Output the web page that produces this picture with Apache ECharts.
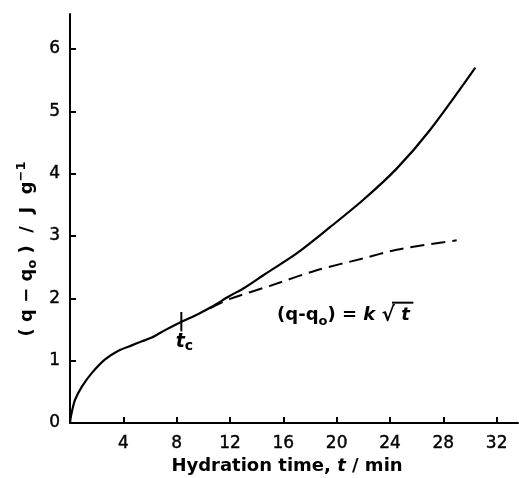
<!DOCTYPE html>
<html><head><meta charset="utf-8">
<script src="https://cdn.jsdelivr.net/npm/echarts@6/dist/echarts.min.js"></script>
<style>html,body{margin:0;padding:0;background:#fff}#c{width:519px;height:478px}</style>
</head><body><div id="c"></div>
<script>
// measured curve (t / min, (q - q0) / J g^-1)
const solidT = [0, 0.08, 0.375, 0.88, 1.63, 2.63, 3.63, 4.63, 5.4, 6.13, 7.13, 8.33, 9.63, 10.6, 12, 13.1, 14.5, 17, 19.5, 22, 24.5, 27, 30.4];
const solidQ = [0, 0.12, 0.37, 0.58, 0.80, 1.02, 1.16, 1.245, 1.31, 1.37, 1.49, 1.62, 1.75, 1.86, 2.04, 2.17, 2.37, 2.72, 3.14, 3.58, 4.08, 4.70, 5.70];
// k*sqrt(t) extrapolation (dashed)
const dashT = [10.5, 12, 15, 18.5, 22, 24.5, 29];
const dashQ = [1.84, 1.99, 2.2, 2.45, 2.64, 2.78, 2.93];
// critical time marker
const tcT = 8.35;
const tcRange = [1.47, 1.78];
const xTicks = [4, 8, 12, 16, 20, 24, 28, 32];
const yTicks = [0, 1, 2, 3, 4, 5, 6];
// annotation anchors (data space)
const eqAnchor = [15.53, 1.72];
const eqRadicalBar = [[24.15, 1.93], [25.75, 1.93]];
const tcLabelAt = [tcT, 1.3];

const FONT = 'DejaVu Sans';
const solid = solidT.map((t, i) => [t, solidQ[i]]);
const dash = dashT.map((t, i) => [t, dashQ[i]]);
const ink = { textBorderColor: '#000', textBorderWidth: 0.4 };
const B = (size, extra) => Object.assign({ fontWeight: 'bold', fontSize: size, fontFamily: FONT, color: '#000' }, extra || {});

const chart = echarts.init(document.getElementById('c'));
chart.setOption({
  animation: false,
  backgroundColor: '#fff',
  grid: { left: 70, top: 14, width: 448, height: 409 },
  xAxis: {
    type: 'value', min: 0, max: 33.6, interval: 4,
    axisLine: { lineStyle: { color: '#000', width: 2 } },
    axisTick: { inside: true, length: 6, lineStyle: { color: '#000', width: 2 } },
    axisLabel: Object.assign({ color: '#000', fontFamily: FONT, fontSize: 17, margin: 12,
      formatter: v => xTicks.includes(v) ? String(v) : '', showMaxLabel: false }, ink),
    splitLine: { show: false }
  },
  yAxis: {
    type: 'value', min: 0, max: 6.56, interval: 1,
    axisLine: { lineStyle: { color: '#000', width: 2 } },
    axisTick: { inside: true, length: 6, lineStyle: { color: '#000', width: 2 } },
    axisLabel: Object.assign({ color: '#000', fontFamily: FONT, fontSize: 17, margin: 10,
      formatter: v => yTicks.includes(v) ? String(v) : '', showMaxLabel: false }, ink),
    splitLine: { show: false }
  },
  graphic: [
    { type: 'text', x: 27, y: 249, rotation: Math.PI / 2,
      style: { text: '( q − q{sub|o} )  /  J  g{sup|−1}', fill: '#000', font: 'bold 18px ' + FONT,
        align: 'center', verticalAlign: 'middle',
        rich: { sub: { fontSize: 13, fontWeight: 'bold', fontFamily: FONT, padding: [11, 0, 0, 0] },
                sup: { fontSize: 13, fontWeight: 'bold', fontFamily: FONT, padding: [0, 0, 11, 0] } } } },
    { type: 'text', x: 287, y: 466,
      style: { text: 'Hydration time, {i|t} / min', fill: '#000', font: 'bold 18px ' + FONT,
        align: 'center', verticalAlign: 'middle',
        rich: { i: { fontStyle: 'italic', fontWeight: 'bold', fontSize: 18, fontFamily: FONT } } } }
  ],
  series: [
    { type: 'line', data: solid, smooth: 0.3, symbol: 'none',
      lineStyle: { color: '#000', width: 2.2 }, z: 3 },
    { type: 'line', data: dash, smooth: 0.3, symbol: 'none',
      lineStyle: { color: '#000', width: 2, type: [14, 7] }, z: 3 },
    { type: 'line', data: [[tcT, tcRange[0]], [tcT, tcRange[1]]], symbol: 'none',
      lineStyle: { color: '#000', width: 2 } },
    { type: 'scatter', symbolSize: 0, silent: true, itemStyle: { opacity: 1, color: '#000' },
      data: [tcLabelAt],
      label: { show: true, position: 'inside', offset: [3, 0], formatter: '{i|t}{s|c}', opacity: 1,
        rich: { i: B(19, { fontStyle: 'italic' }),
                s: B(14, { padding: [9, 0, 0, 0] }) } } },
    { type: 'scatter', symbolSize: 0, silent: true, itemStyle: { opacity: 1, color: '#000' },
      data: [eqAnchor],
      label: { show: true, position: 'right', distance: 0, opacity: 1,
        formatter: '{b|(q-q}{s|o}{b|) = }{i|k}{b| }{r|√}{b| }{i|t}',
        color: '#000',
        rich: { b: B(18), s: B(13, { padding: [11, 0, 0, 0] }),
                i: B(18, { fontStyle: 'italic' }), r: B(20) } } },
    { type: 'line', data: eqRadicalBar, symbol: 'none',
      lineStyle: { color: '#000', width: 2 } }
  ]
});
</script></body></html>
